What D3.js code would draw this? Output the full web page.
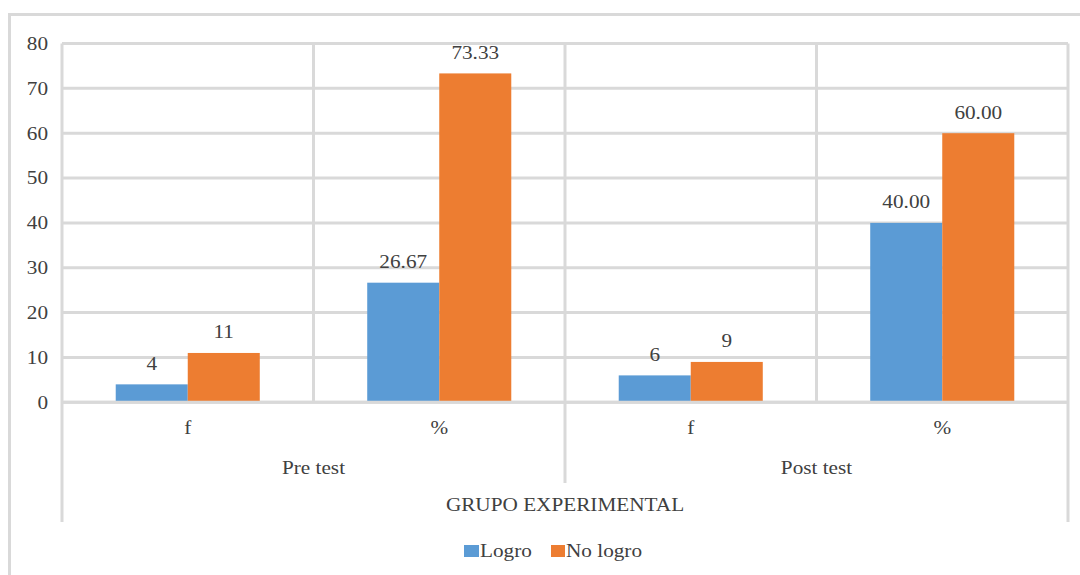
<!DOCTYPE html>
<html>
<head>
<meta charset="utf-8">
<script src="https://cdn.jsdelivr.net/npm/d3@7"></script>
<style>
  html, body { margin: 0; padding: 0; background: #fff; }
  svg { display: block; }
  text { font-family: "Liberation Serif", "Times New Roman", serif; fill: #404040; }
</style>
</head>
<body>
<svg id="chart" width="1080" height="575"></svg>
<script>
// ---- data ----
const categories = ["f", "%", "f", "%"];
const groups = ["Pre test", "Post test"];
const seriesNames = ["Logro", "No logro"];
const logro = [4, 26.67, 6, 40.00];
const noLogro = [11, 73.33, 9, 60.00];
const logroLabels = ["4", "26.67", "6", "40.00"];
const noLogroLabels = ["11", "73.33", "9", "60.00"];
const yTicks = [0, 10, 20, 30, 40, 50, 60, 70, 80];
const axisTitle = "GRUPO EXPERIMENTAL";
const colors = ["#5b9bd5", "#ed7d31"];

// ---- layout ----
const svg = d3.select("#chart");
const plotL = 62, plotR = 1068, plotT = 43.5, plotB = 402.3;
const grid = "#d9d9d9";
const sx = 1.18; // horizontal text stretch to match reference
const fs = 18;

function addText(x, y, str, anchor) {
  const g = svg.append("g").attr("transform", `translate(${x},${y}) scale(${sx},1)`);
  g.append("text").attr("text-anchor", anchor || "middle")
    .attr("dominant-baseline", "central")
    .style("font-size", fs + "px").text(str);
  return g;
}

// outer frame
svg.append("rect").attr("x", 9.5).attr("y", 14.5).attr("width", 1200).attr("height", 700)
  .attr("fill", "none").attr("stroke", grid).attr("stroke-width", 3);

const idx = categories.map((d, i) => i);
const x0 = d3.scaleBand().domain(idx).range([plotL, plotR]).paddingInner(0).paddingOuter(0);
const x1 = d3.scaleBand().domain([0, 1]).range([0, x0.bandwidth()]).paddingInner(0).paddingOuter(0.746);
const y = d3.scaleLinear().domain([0, 80]).range([plotB, plotT]);

// horizontal gridlines
svg.append("g").selectAll("line").data(yTicks).join("line")
  .attr("x1", plotL).attr("x2", plotR)
  .attr("y1", d => y(d)).attr("y2", d => y(d))
  .attr("stroke", grid).attr("stroke-width", 3);

// vertical separators
const bounds = idx.map(i => x0(i)).concat([plotR]);
bounds.forEach((bx, k) => {
  let y2 = plotB;
  if (k === 0 || k === bounds.length - 1) y2 = 522;
  else if (k === 2) y2 = 483;
  svg.append("line").attr("x1", bx).attr("x2", bx).attr("y1", plotT).attr("y2", y2)
    .attr("stroke", grid).attr("stroke-width", 3);
});

// y tick labels
yTicks.forEach(t => addText(48, y(t), String(t), "end"));

// bars
const series = [logro, noLogro];
const labels = [logroLabels, noLogroLabels];
series.forEach((vals, s) => {
  svg.append("g").selectAll("rect").data(vals).join("rect")
    .attr("x", (d, i) => x0(i) + x1(s))
    .attr("width", x1.bandwidth())
    .attr("y", d => y(d))
    .attr("height", d => plotB - y(d))
    .attr("fill", colors[s]);
  vals.forEach((v, i) => {
    addText(x0(i) + x1(s) + x1.bandwidth() / 2, y(v) - 21, labels[s][i]);
  });
});

// redraw baseline over bars
svg.append("line").attr("x1", plotL).attr("x2", plotR).attr("y1", plotB).attr("y2", plotB)
  .attr("stroke", grid).attr("stroke-width", 3);

// category labels
categories.forEach((c, i) => addText(x0(i) + x0.bandwidth() / 2, 428, c));
// group labels
groups.forEach((g, gi) => {
  const cx = (x0(gi * 2) + x0(gi * 2 + 1) + x0.bandwidth()) / 2;
  addText(cx, 468, g);
});
// axis title
addText((plotL + plotR) / 2, 505, axisTitle);

// legend
const legY = 551;
const legItems = [{x: 464, w: 15}, {x: 551, w: 14}];
seriesNames.forEach((n, s) => {
  svg.append("rect").attr("x", legItems[s].x).attr("y", legY - 6).attr("width", legItems[s].w).attr("height", 12)
    .attr("fill", colors[s]);
  addText(legItems[s].x + legItems[s].w + 1, legY, n, "start");
});
</script>
</body>
</html>
